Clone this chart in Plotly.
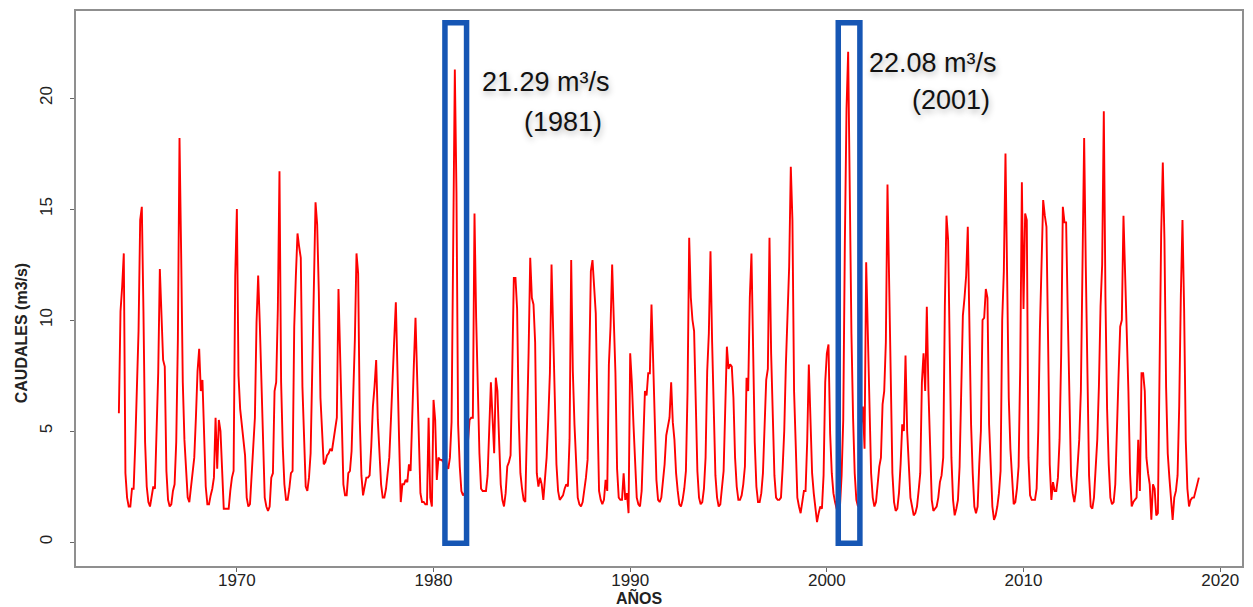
import plotly.graph_objects as go

# Caudales medios mensuales (m3/s), enero 1964 - diciembre 2018
anio_inicio = 1964

caudales_1964_1969 = [
    5.8, 10.4, 11.5, 13.0, 3.1, 2.0, 1.6, 1.6, 2.4, 2.4, 4.4, 7.0,
    9.5, 14.5, 15.1, 10.4, 4.5, 2.5, 1.8, 1.6, 2.0, 2.5, 2.4, 5.5,
    7.6, 12.3, 10.2, 8.2, 7.9, 3.2, 1.9, 1.6, 1.7, 2.3, 2.6, 4.5,
    9.1, 18.2, 13.0, 7.2, 4.6, 3.1, 2.0, 1.8, 2.4, 3.0, 3.8, 5.6,
    7.7, 8.7, 6.8, 7.3, 5.3, 2.5, 1.7, 1.7, 2.1, 2.4, 2.9, 5.6,
    3.3, 5.5, 5.0, 3.5, 1.5, 1.5, 1.5, 1.5, 2.3, 2.9, 3.2, 12.0,
]
caudales_1970s = [
    15.0, 7.5, 6.0, 5.3, 4.6, 3.9, 2.0, 1.6, 1.7, 3.0, 3.9, 5.6,
    9.9, 12.0, 9.8, 7.2, 4.2, 2.0, 1.6, 1.4, 1.6, 2.9, 3.1, 6.8,
    7.2, 10.5, 16.7, 7.2, 4.3, 2.6, 1.9, 1.9, 2.4, 3.1, 3.2, 9.7,
    12.0, 13.9, 13.3, 12.8, 7.0, 4.3, 2.5, 2.3, 2.9, 4.0, 7.5, 10.3,
    15.3, 14.3, 11.3, 6.5, 4.9, 3.5, 3.6, 3.9, 4.0, 4.2, 4.1, 4.6,
    5.2, 5.6, 11.4, 8.3, 4.6, 2.6, 2.1, 2.1, 3.1, 3.2, 4.1, 6.6,
    9.1, 13.0, 12.1, 5.5, 3.0, 2.1, 2.6, 2.9, 2.9, 3.0, 4.3, 6.1,
    7.0, 8.2, 5.5, 3.8, 2.6, 2.0, 2.0, 2.4, 3.1, 3.8, 5.5, 7.8,
    9.1, 10.8, 7.2, 4.6, 1.8, 2.6, 2.6, 2.8, 2.7, 3.5, 3.2, 6.0,
    8.0, 10.1, 7.5, 4.0, 2.2, 1.8, 1.8, 1.7, 1.7, 5.6, 2.0, 1.6,
]
caudales_1980s = [
    6.4, 5.5, 2.8, 3.8, 3.7, 3.7, 3.6, 4.2, 3.4, 3.3, 3.8, 5.4,
    13.3, 21.29, 15.7, 5.3, 3.4, 2.3, 2.1, 2.2, 2.6, 4.5, 5.5, 5.6,
    5.6, 14.8, 10.1, 6.7, 4.0, 2.4, 2.3, 2.3, 2.3, 3.0, 5.6, 7.2,
    5.6, 4.0, 7.4, 6.8, 4.6, 2.6, 1.9, 1.6, 2.2, 3.4, 3.6, 3.9,
    7.6, 11.9, 11.9, 10.5, 5.6, 3.1, 2.4, 1.9, 1.8, 4.6, 8.5, 12.8,
    11.0, 10.7, 9.0, 3.1, 2.5, 2.9, 2.6, 1.9, 3.0, 3.8, 5.5, 7.6,
    12.5, 9.5, 6.0, 3.5, 2.3, 1.9, 2.0, 2.1, 2.4, 2.6, 2.5, 4.6,
    12.7, 7.7, 5.3, 3.4, 2.0, 1.7, 1.6, 1.8, 2.3, 2.9, 3.7, 8.0,
    12.2, 12.7, 11.3, 10.3, 6.0, 2.3, 1.9, 1.7, 1.9, 2.8, 2.3, 8.0,
    9.7, 12.5, 10.0, 7.6, 3.3, 2.0, 1.9, 1.9, 3.1, 1.9, 2.2, 1.3,
]
caudales_1990s = [
    8.5, 7.2, 5.3, 3.5, 2.0, 1.7, 1.6, 2.3, 4.6, 6.8, 6.6, 7.6,
    7.6, 10.7, 8.2, 4.9, 2.8, 1.9, 1.8, 2.0, 2.7, 3.5, 4.8, 5.3,
    5.6, 7.2, 5.4, 4.6, 3.1, 2.3, 1.7, 1.6, 1.9, 2.4, 3.2, 6.8,
    13.7, 11.0, 10.0, 9.5, 6.0, 3.2, 2.0, 1.7, 1.8, 2.4, 3.8, 7.7,
    9.4, 13.1, 9.0, 5.8, 3.0, 2.0, 1.6, 1.7, 2.5, 3.2, 6.0, 8.8,
    7.8, 8.0, 7.9, 6.5, 3.8, 2.5, 1.9, 1.9, 2.1, 2.6, 3.4, 7.4,
    6.8, 11.0, 13.0, 7.7, 4.5, 2.5, 1.8, 1.8, 2.2, 3.1, 5.0, 7.3,
    7.8, 13.7, 8.5, 5.0, 3.0, 2.0, 1.9, 1.9, 2.0, 3.3, 5.0, 8.0,
    10.5, 12.4, 16.9, 14.5, 6.8, 3.8, 2.0, 1.6, 1.3, 1.8, 2.3, 2.3,
    4.5, 8.0, 5.3, 3.1, 2.2, 1.6, 0.9, 1.3, 1.6, 1.5, 3.0, 7.2,
]
caudales_2000s = [
    8.5, 8.9, 4.9, 3.1, 2.2, 1.8, 1.5, 1.4, 1.6, 3.0, 5.5, 13.6,
    19.5, 22.08, 14.8, 9.4, 5.6, 3.1, 1.9, 1.6, 1.8, 5.3, 6.1, 4.2,
    12.6, 9.1, 5.6, 3.1, 2.0, 1.6, 1.8, 2.8, 3.4, 3.8, 6.2, 6.8,
    9.0, 16.1, 11.5, 7.6, 3.1, 1.8, 1.4, 1.5, 2.2, 3.5, 5.3, 5.0,
    8.4, 5.0, 3.3, 2.0, 1.6, 1.2, 1.3, 1.6, 2.3, 3.1, 7.2, 8.5,
    6.8, 10.6, 6.8, 4.6, 1.9, 1.4, 1.5, 1.6, 2.0, 2.7, 3.0, 3.8,
    10.6, 14.7, 13.6, 8.3, 3.8, 1.9, 1.2, 1.5, 1.9, 3.4, 6.2, 10.2,
    11.0, 12.0, 14.2, 9.1, 5.3, 3.1, 1.6, 1.3, 1.6, 3.5, 5.0, 10.0,
    10.1, 11.4, 11.0, 5.3, 3.1, 1.6, 1.0, 1.2, 1.6, 2.2, 3.2, 10.0,
    12.2, 17.5, 12.0, 6.5, 4.2, 2.9, 1.7, 1.8, 2.4, 3.4, 7.9, 16.2,
]
caudales_2010s = [
    10.5, 14.8, 14.5, 3.8, 2.1, 1.9, 1.9, 1.9, 2.4, 5.0, 9.6, 13.3,
    15.4, 14.7, 14.2, 9.1, 3.5, 1.9, 2.7, 2.3, 2.3, 2.9, 4.6, 8.5,
    15.1, 14.4, 14.4, 10.3, 6.8, 3.0, 2.2, 1.8, 2.3, 3.5, 4.6, 6.8,
    12.4, 18.2, 12.4, 6.8, 3.0, 1.6, 1.5, 2.0, 3.1, 4.6, 7.0, 10.6,
    12.5, 19.4, 11.0, 6.0, 3.5, 2.0, 1.7, 1.8, 2.6, 4.6, 7.5, 9.7,
    10.0, 14.7, 12.2, 9.7, 6.8, 3.1, 1.6, 1.8, 1.9, 2.0, 4.6, 2.3,
    7.6, 7.6, 6.8, 3.8, 3.1, 2.6, 1.0, 2.6, 2.4, 1.2, 1.3, 8.5,
    13.9, 17.1, 13.6, 7.0, 4.0, 2.9, 1.8, 1.0, 2.0, 2.3, 3.0, 6.1,
    11.1, 14.5, 10.5, 4.6, 2.4, 1.6, 1.9, 2.0, 2.0, 2.3, 2.6, 2.9,
]

anios_ticks = [1970, 1980, 1990, 2000, 2010, 2020]
caudal_ticks = [0, 5, 10, 15, 20]

# caudales maximos resaltados
picos_anio = [1981, 2001]
picos_texto = ["21.29 m³/s", "22.08 m³/s"]

caudales = (caudales_1964_1969 + caudales_1970s + caudales_1980s
            + caudales_1990s + caudales_2000s + caudales_2010s)
fechas = [anio_inicio + i / 12 for i in range(len(caudales))]

fig = go.Figure()
fig.add_trace(go.Scatter(x=fechas, y=caudales, mode='lines',
                         line=dict(color='#ff0000', width=1.9),
                         hoverinfo='x+y'))

# recuadros azules alrededor de los maximos
for anio in picos_anio:
    fig.add_shape(type='rect', xref='x', yref='y',
                  x0=anio - 0.42, x1=anio + 0.68, y0=-0.06, y1=23.39,
                  line=dict(color='#1656b4', width=5.5))

# etiquetas de los maximos
etiqueta_x = [1985.7, 2005.4]
etiqueta_y = [20.7, 21.6]
anio_x = [1986.6, 2006.3]
anio_y = [18.9, 19.9]
sombra = '1px 3px 6px rgba(0,0,0,0.30)'
for i in range(len(picos_anio)):
    fig.add_annotation(x=etiqueta_x[i], y=etiqueta_y[i], xref='x', yref='y',
                       text=picos_texto[i], showarrow=False,
                       xanchor='center', yanchor='middle',
                       font=dict(size=27, color='#111111', shadow=sombra))
    fig.add_annotation(x=anio_x[i], y=anio_y[i], xref='x', yref='y',
                       text=f'({picos_anio[i]})', showarrow=False,
                       xanchor='center', yanchor='middle',
                       font=dict(size=27, color='#111111', shadow=sombra))

# titulos de ejes
fig.add_annotation(x=0.483, y=-0.056, xref='paper', yref='paper',
                   text='<b>AÑOS</b>', showarrow=False,
                   xanchor='center', yanchor='middle',
                   font=dict(size=16, color='#222222'))
fig.add_annotation(x=-0.046, y=0.42, xref='paper', yref='paper',
                   text='<b>CAUDALES (m3/s)</b>', showarrow=False, textangle=-90,
                   xanchor='center', yanchor='middle',
                   font=dict(size=16, color='#222222'))

eje = dict(showgrid=False, zeroline=False, showline=True, mirror=True,
           linecolor='#8f8f8f', linewidth=1.5, ticks='outside', ticklen=4,
           tickcolor='#666666', tickwidth=1.2,
           tickfont=dict(size=17, color='#222222'))

fig.update_layout(
    width=1253, height=607,
    margin=dict(l=76, r=9, t=11, b=41),
    paper_bgcolor='white', plot_bgcolor='white',
    showlegend=False,
    font=dict(family='Liberation Sans, Arial, sans-serif'),
    xaxis=dict(eje, range=[1961.82, 2021.11], tickvals=anios_ticks,
               ticktext=[str(a) for a in anios_ticks], ticklabelstandoff=-6),
    yaxis=dict(eje, range=[-1.08, 23.92], tickvals=caudal_ticks,
               ticktext=[str(v) for v in caudal_ticks], tickangle=-90,
               ticklabelstandoff=11),
)

fig.write_html("out.html", config={'displayModeBar': False},
               post_script="document.body.style.margin='0';")
